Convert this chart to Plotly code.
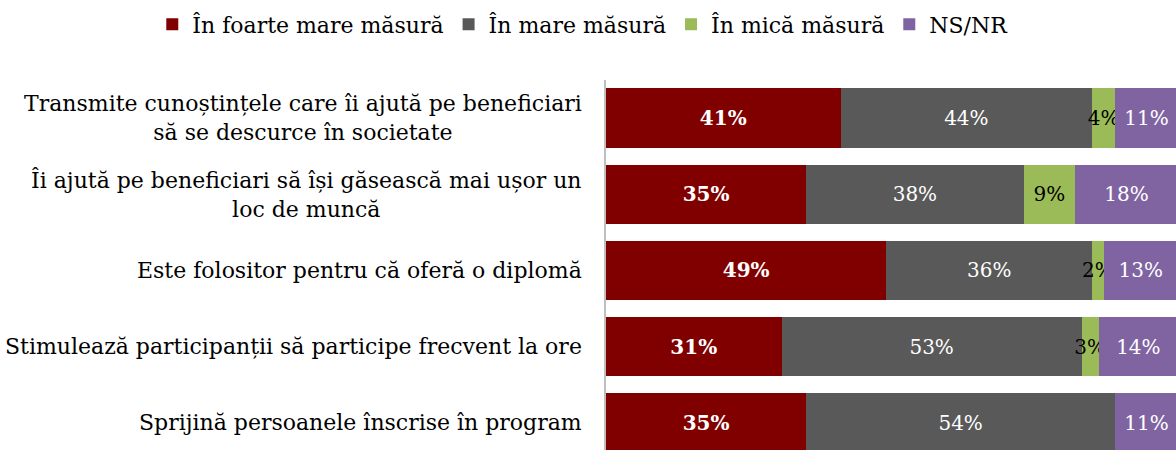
import plotly.graph_objects as go

categories = [
    "Transmite cunoștințele care îi ajută pe beneficiari<br>să se descurce în societate",
    "Îi ajută pe beneficiari să își găsească mai ușor un<br>loc de muncă",
    "Este folositor pentru că oferă o diplomă",
    "Stimulează participanții să participe frecvent la ore",
    "Sprijină persoanele înscrise în program",
]
series_names = ["În foarte mare măsură", "În mare măsură", "În mică măsură", "NS/NR"]
foarte_mare = [41, 35, 49, 31, 35]
mare = [44, 38, 36, 53, 54]
mica = [4, 9, 2, 3, 0]
nsnr = [11, 18, 13, 14, 11]

colors = ["#800000", "#595959", "#9BBB59", "#8064A2"]
text_colors = ["white", "white", "black", "white"]
weights = ["bold", "normal", "normal", "normal"]
FONT = "DejaVu Serif"

fig = go.Figure()
for name, vals, col, tcol, w in zip(series_names, [foarte_mare, mare, mica, nsnr], colors, text_colors, weights):
    fig.add_trace(go.Bar(
        y=categories, x=vals, name=name, orientation="h",
        marker=dict(color=col, line=dict(width=0)),
        text=[f"{v}%" if v > 0 else "" for v in vals],
        textposition="inside", insidetextanchor="middle", textangle=0,
        textfont=dict(family=FONT, size=20, color=tcol, weight=w),
        hoverinfo="skip",
    ))

for c in categories:
    fig.add_annotation(
        x=0, xref="paper", y=c, yref="y", text=c, showarrow=False,
        xanchor="right", yanchor="middle", align="center", xshift=-22,
        font=dict(family=FONT, size=22, color="black"),
    )

fig.update_layout(
    width=1176, height=450,
    barmode="stack", barnorm="percent", bargap=0.22,
    margin=dict(l=606, r=0, t=80, b=0),
    paper_bgcolor="white", plot_bgcolor="white",
    uniformtext=dict(minsize=20, mode="show"),
    showlegend=True,
    legend=dict(
        orientation="h", xref="paper", yref="paper",
        x=-0.796, xanchor="left", y=1.15, yanchor="middle",
        font=dict(family=FONT, size=22, color="black"),
        traceorder="normal",
    ),
    xaxis=dict(range=[0, 99.65], showgrid=False, showticklabels=False, zeroline=False, showline=False),
    yaxis=dict(range=[4.358, -0.5], showticklabels=False, showgrid=False, zeroline=False,
               showline=True, linecolor="#BFBFBF", linewidth=2, ticks=""),
)

fig.write_html("out.html", config={"displayModeBar": False},
               post_script="document.body.style.margin='0';document.body.style.overflow='hidden';")
